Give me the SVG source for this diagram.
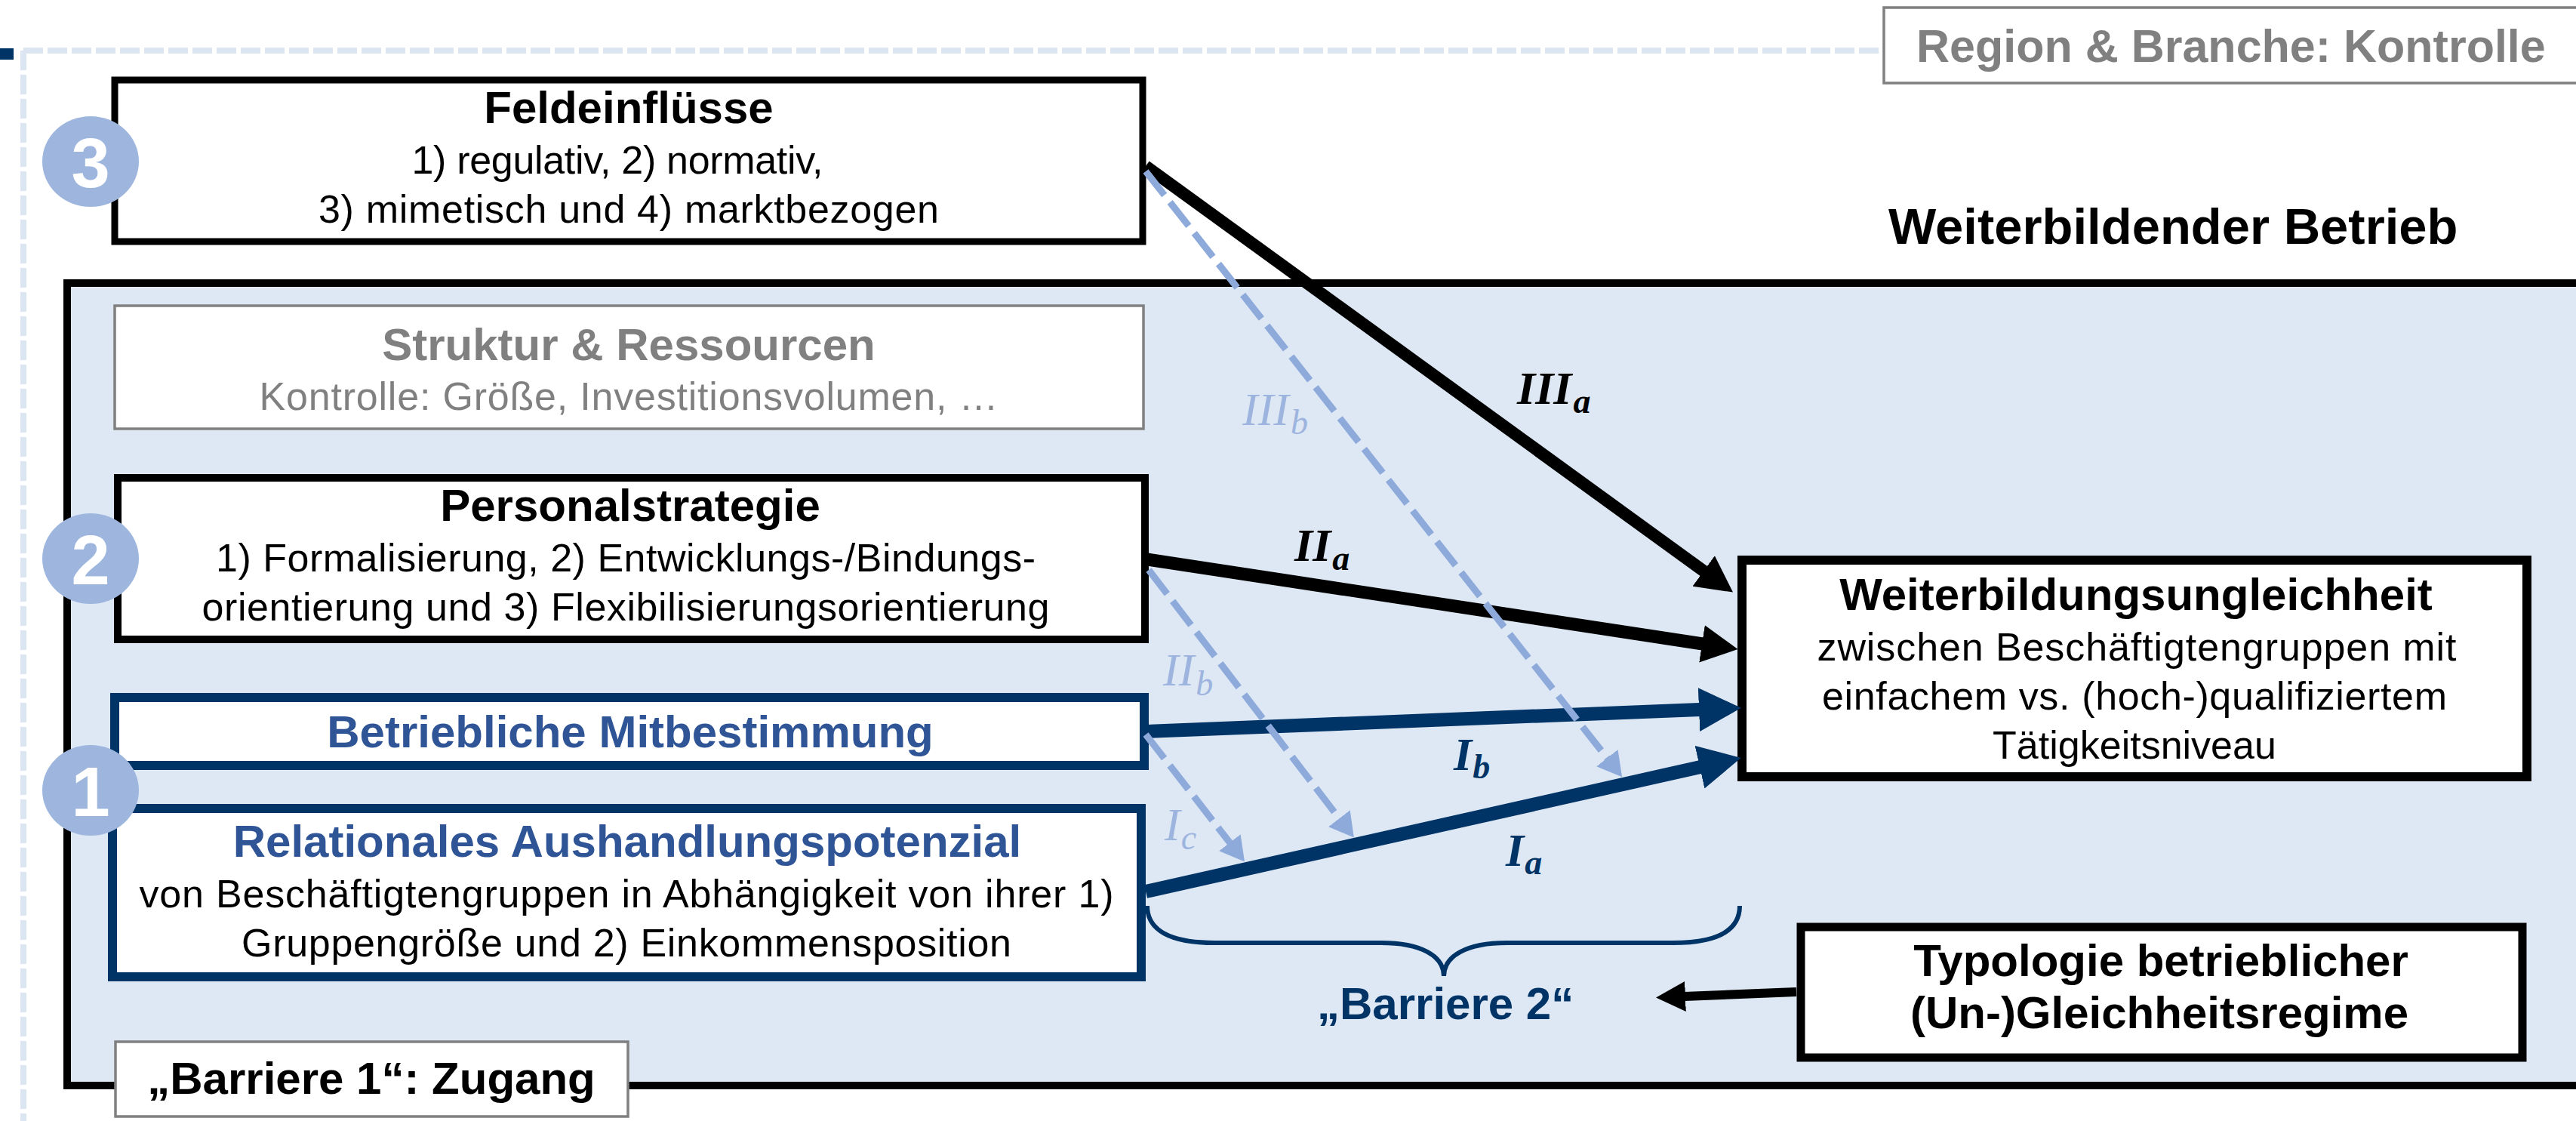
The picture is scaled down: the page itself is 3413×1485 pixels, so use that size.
<svg xmlns="http://www.w3.org/2000/svg" width="3413" height="1485" viewBox="0 0 3413 1485">
<style>
.t{font-family:"Liberation Sans",Arial,sans-serif;}
.b{font-weight:bold;}
.ttl{font-size:60px;font-weight:bold;}
.body{font-size:52px;}
.gray{fill:#808080;}
.blk{fill:#000;}
.blue{fill:#2F5597;}
.navyT{fill:#003366;}
.num{font-family:"Liberation Sans",Arial,sans-serif;font-weight:bold;font-size:92px;fill:#fff;}
.lbl{font-family:"Liberation Serif","Times New Roman",serif;font-style:italic;font-size:62px;}
.sub{font-size:46px;}
.lb{font-weight:bold;}
.lt{fill:#9DB4DE;}
.circ{fill:#9EB6DE;}
.boxBlack{fill:#fff;stroke:#000;}
.boxNavy{fill:#fff;stroke:#003366;stroke-width:12;}
.boxGray{fill:#fff;stroke:#808080;stroke-width:3.5;}
.solidBlack{stroke:#000;fill:none;}
.solidNavy{stroke:#003366;stroke-width:18;fill:none;}
.dashLt{stroke:#8EAADB;stroke-width:9;stroke-dasharray:40 12;fill:none;}
</style>
<defs>
<marker id="hBlack" markerUnits="userSpaceOnUse" viewBox="0 0 48 50" markerWidth="48" markerHeight="50" refX="1" refY="25" orient="auto"><path d="M0,0 L48,25 L0,50 z" fill="#000"/></marker>
<marker id="hNavy" markerUnits="userSpaceOnUse" viewBox="0 0 56 58" markerWidth="56" markerHeight="58" refX="1" refY="29" orient="auto"><path d="M0,0 L56,29 L0,58 z" fill="#003366"/></marker>
<marker id="hLight" markerUnits="userSpaceOnUse" viewBox="0 0 32 36" markerWidth="32" markerHeight="36" refX="1" refY="18" orient="auto"><path d="M0,0 L32,18 L0,36 z" fill="#8EAADB"/></marker>
<marker id="hSmall" markerUnits="userSpaceOnUse" viewBox="0 0 39 40" markerWidth="39" markerHeight="40" refX="1" refY="20" orient="auto"><path d="M0,0 L39,20 L0,40 z" fill="#000"/></marker>
</defs>

<rect width="3413" height="1485" fill="#fff"/>

<g id="frame">
<rect x="0" y="64" width="18" height="15" fill="#003366"/>
<path d="M31,67 L2496,67 M31,67 L31,1485" stroke="#DCE6F2" stroke-width="8" stroke-dasharray="26 6" fill="none"/>
</g>

<g id="region">
<rect x="2496" y="10" width="940" height="100" class="boxGray"/>
<text x="2539" y="82" class="t b gray" font-size="61">Region &amp; Branche: Kontrolle</text>
</g>

<g id="betrieb">
<rect x="89" y="375" width="3400" height="1063" fill="#DDE8F4" stroke="#000" stroke-width="10"/>
<text x="2502" y="323" class="t b blk" font-size="67">Weiterbildender Betrieb</text>
</g>

<g id="feldeinfluesse">
<rect x="152" y="106" width="1362" height="214" class="boxBlack" stroke-width="9"/>
<text x="833" y="163" text-anchor="middle" class="t ttl blk">Feldeinflüsse</text>
<text x="818" y="230" text-anchor="middle" class="t body blk" textLength="545" lengthAdjust="spacing">1) regulativ, 2) normativ,</text>
<text x="833" y="295" text-anchor="middle" class="t body blk" textLength="822" lengthAdjust="spacing">3) mimetisch und 4) marktbezogen</text>
</g>

<g id="struktur">
<rect x="152" y="405" width="1363" height="163" class="boxGray"/>
<text x="833" y="477" text-anchor="middle" class="t ttl gray">Struktur &amp; Ressourcen</text>
<text x="833" y="543" text-anchor="middle" class="t body gray" textLength="979" lengthAdjust="spacing">Kontrolle: Größe, Investitionsvolumen, …</text>
</g>

<g id="personalstrategie">
<rect x="156" y="633" width="1361" height="214" class="boxBlack" stroke-width="10"/>
<text x="835" y="690" text-anchor="middle" class="t ttl blk">Personalstrategie</text>
<text x="829" y="757" text-anchor="middle" class="t body blk" textLength="1086" lengthAdjust="spacing">1) Formalisierung, 2) Entwicklungs-/Bindungs-</text>
<text x="829" y="822" text-anchor="middle" class="t body blk" textLength="1123" lengthAdjust="spacing">orientierung und 3) Flexibilisierungsorientierung</text>
</g>

<g id="mitbestimmung">
<rect x="152" y="924" width="1364" height="90" class="boxNavy"/>
<text x="835" y="990" text-anchor="middle" class="t ttl blue">Betriebliche Mitbestimmung</text>
</g>

<g id="aushandlung">
<rect x="149" y="1071" width="1363" height="223" class="boxNavy"/>
<text x="831" y="1135" text-anchor="middle" class="t ttl blue">Relationales Aushandlungspotenzial</text>
<text x="830" y="1202" text-anchor="middle" class="t body blk" textLength="1291" lengthAdjust="spacing">von Beschäftigtengruppen in Abhängigkeit von ihrer 1)</text>
<text x="830" y="1267" text-anchor="middle" class="t body blk" textLength="1020" lengthAdjust="spacing">Gruppengröße und 2) Einkommensposition</text>
</g>

<g id="ungleichheit">
<rect x="2308" y="742" width="1040" height="287" class="boxBlack" stroke-width="12"/>
<text x="2830" y="808" text-anchor="middle" class="t ttl blk">Weiterbildungsungleichheit</text>
<text x="2831" y="875" text-anchor="middle" class="t body blk" textLength="847" lengthAdjust="spacing">zwischen Beschäftigtengruppen mit</text>
<text x="2828" y="940" text-anchor="middle" class="t body blk" textLength="828" lengthAdjust="spacing">einfachem vs. (hoch-)qualifiziertem</text>
<text x="2828" y="1005" text-anchor="middle" class="t body blk">Tätigkeitsniveau</text>
</g>

<g id="typologie">
<rect x="2386" y="1228" width="956" height="173" class="boxBlack" stroke-width="11"/>
<text x="2863" y="1293" text-anchor="middle" class="t ttl blk">Typologie betrieblicher</text>
<text x="2861" y="1362" text-anchor="middle" class="t ttl blk">(Un-)Gleichheitsregime</text>
</g>

<g id="barriere1">
<rect x="153" y="1380" width="679" height="99" class="boxGray"/>
<text x="492" y="1449" text-anchor="middle" class="t ttl blk">„Barriere 1“: Zugang</text>
</g>

<g id="connectors">
<line x1="1518" y1="220" x2="2258" y2="757" class="solidBlack" stroke-width="16" marker-end="url(#hBlack)"/>
<line x1="1520" y1="741" x2="2256" y2="853" class="solidBlack" stroke-width="17" marker-end="url(#hBlack)"/>
<line x1="1517" y1="969" x2="2252" y2="940" class="solidNavy" marker-end="url(#hNavy)"/>
<line x1="1518" y1="1181" x2="2253" y2="1016" class="solidNavy" marker-end="url(#hNavy)"/>
<line x1="1518" y1="227" x2="2130" y2="1005" class="dashLt" marker-end="url(#hLight)"/>
<line x1="1522" y1="755" x2="1775" y2="1085" class="dashLt" marker-end="url(#hLight)"/>
<line x1="1518" y1="973" x2="1630" y2="1117" class="dashLt" marker-end="url(#hLight)"/>
<line x1="2380" y1="1314" x2="2232" y2="1320" class="solidBlack" stroke-width="12" marker-end="url(#hSmall)"/>
</g>

<g id="labels">
<text x="2010" y="535" class="lbl lb blk">III<tspan dx="2" dy="12" class="sub">a</tspan></text>
<text x="1715" y="743" class="lbl lb blk">II<tspan dx="2" dy="12" class="sub">a</tspan></text>
<text x="1646" y="563" class="lbl lt">III<tspan dx="2" dy="12" class="sub">b</tspan></text>
<text x="1541" y="908" class="lbl lt">II<tspan dx="2" dy="13" class="sub">b</tspan></text>
<text x="1543" y="1113" class="lbl lt">I<tspan dx="1" dy="12" class="sub">c</tspan></text>
<text x="1926" y="1020" class="lbl lb navyT">I<tspan dx="1" dy="11" class="sub">b</tspan></text>
<text x="1995" y="1147" class="lbl lb navyT">I<tspan dx="1" dy="11" class="sub">a</tspan></text>
</g>

<g id="barriere2">
<path d="M1520,1200 C1520,1232 1550,1249 1610,1249 L1830,1249 C1882,1249 1913,1266 1913,1293 C1913,1266 1944,1249 1996,1249 L2216,1249 C2276,1249 2305,1232 2305,1200" fill="none" stroke="#003366" stroke-width="6"/>
<text x="1745" y="1350" class="t ttl navyT">„Barriere 2“</text>
</g>

<g id="markers">
<ellipse cx="120" cy="214" rx="64" ry="60" class="circ"/>
<text x="120" y="248" text-anchor="middle" class="num">3</text>
<ellipse cx="120" cy="740" rx="64" ry="60" class="circ"/>
<text x="120" y="774" text-anchor="middle" class="num">2</text>
<ellipse cx="120" cy="1047" rx="64" ry="60" class="circ"/>
<text x="120" y="1081" text-anchor="middle" class="num">1</text>
</g>
</svg>
